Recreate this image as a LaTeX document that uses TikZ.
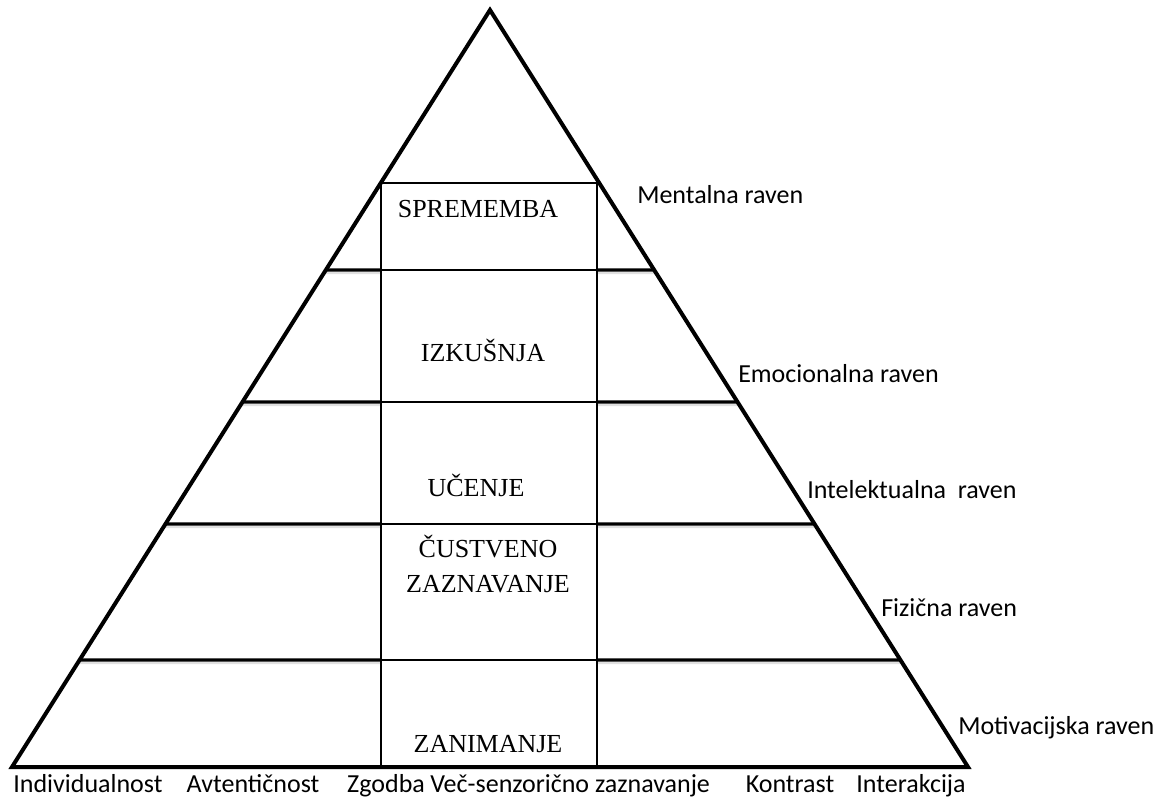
\documentclass[tikz,border=0pt]{standalone}
\usepackage{fontspec}
\setmainfont{Liberation Serif}
\newfontfamily\ravenfont{Carlito}
\usetikzlibrary{calc}
\begin{document}
\begin{tikzpicture}[x=0.75pt,y=-0.75pt,
    pyr/.style={line width=3pt, line join=miter},
    divider/.style={line width=2.3pt},
    shade/.style={line width=1.6pt, black!12},
    boxline/.style={line width=1.1pt},
    stage/.style={font=\fontsize{19.5}{23}\selectfont, anchor=base, inner sep=0pt},
    raven/.style={font=\ravenfont\fontsize{19.5}{23}\selectfont, anchor=base west, inner sep=0pt},
    element/.style={font=\ravenfont\fontsize{19.5}{23}\selectfont, anchor=base, inner sep=0pt}]
    \useasboundingbox (0,0) rectangle (1160,799);

    \coordinate (top) at (490,10);
    \coordinate (bl) at (12,767);
    \coordinate (br) at (968,767);

    % levels
    \foreach \y in {270,402,524,660}{
        \draw[shade] ($(bl)!{(767-\y-3)/757}!(top)$) -- (381,\y+3);
        \draw[shade] (597,\y+3) -- ($(br)!{(767-\y-3)/757}!(top)$);
        \draw[divider] ($(bl)!{(767-\y)/757}!(top)$) -- (381,\y);
        \draw[divider] (597,\y) -- ($(br)!{(767-\y)/757}!(top)$);
        \draw[boxline] (381,\y) -- (597,\y);
    }

    % middle column
    \draw[boxline] (381,183) rectangle (597,767);

    \draw[pyr] (bl) -- (top) -- (br) -- cycle;

    \node[stage] (spr) at (478,217) {SPREMEMBA};
    \node[stage] (izk) at (483,361) {IZKUŠNJA};
    \node[stage] (uce) at (476,496) {UČENJE};
    \node[stage] (cus) at (488,557) {ČUSTVENO};
    \node[stage] (zaz) at (488,592) {ZAZNAVANJE};
    \node[stage] (zan) at (488,752) {ZANIMANJE};

    \node[raven] (ment) at (637,203) {Mentalna raven};
    \node[raven] (emo) at (738,382) {Emocionalna raven};
    \node[raven] (int) at (807,498) {Intelektualna\ \ raven};
    \node[raven] (fiz) at (881,616) {Fizična raven};
    \node[raven] (mot) at (958,734) {Motivacijska raven};

    \node[element] (ind) at (88,792) {Individualnost};
    \node[element] (avt) at (253,792) {Avtentičnost};
    \node[element] (zgo) at (386,792) {Zgodba};
    \node[element, anchor=base west] (sen) at (430,792) {Več-senzorično zaznavanje};
    \node[element] (kon) at (790,792) {Kontrast};
    \node[element] (inter) at (911,792) {Interakcija};
\end{tikzpicture}
\end{document}
